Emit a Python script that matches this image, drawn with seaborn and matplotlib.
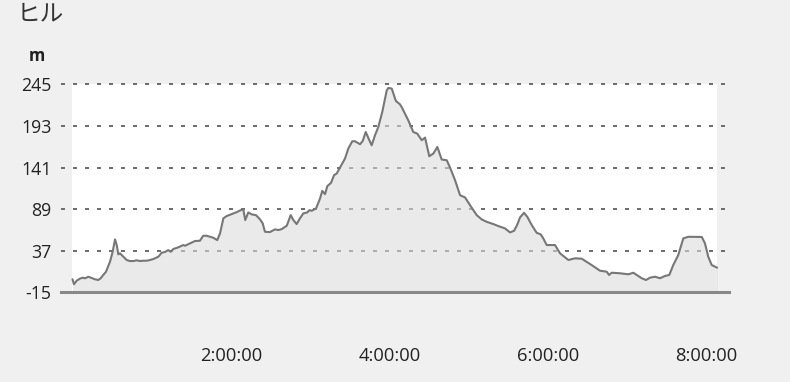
import matplotlib
matplotlib.use("Agg")
import matplotlib.pyplot as plt
import seaborn as sns
import pandas as pd

# elapsed time (minutes) and elevation (m)
minutes = [0, 1.1, 3.2, 5.7, 7.7, 9.5, 12.0, 14.5, 17.0, 19.5, 21.3, 23.3, 25.4, 28.4, 30.4,
           32.2, 33.5, 34.7, 36.0, 38.5, 41.0, 43.5, 46.0, 48.6, 51.1, 53.6, 56.2, 58.7, 61.2,
           65.0, 67.5, 70.0, 72.5, 74.3, 76.3, 80.1, 83.9, 85.2, 89.0, 92.7, 96.5, 99.0, 101.6,
           104.1, 106.6, 109.6, 111.7, 114.2, 116.7, 120.5, 124.3, 127.3, 129.3, 130.8, 133.1,
           135.7, 138.9, 142.0, 144.0, 145.7, 149.5, 153.3, 155.8, 158.4, 162.2, 165.2, 167.2,
           169.7, 172.2, 174.7, 177.8, 179.3, 181.1, 184.4, 187.4, 189.1, 191.2, 192.9, 195.7,
           198.0, 200.0, 202.5, 206.3, 208.8, 211.8, 213.9, 217.7, 219.7, 222.0, 224.5, 226.5,
           229.0, 231.5, 234.5, 237.9, 239.1, 241.7, 244.2, 244.9, 247.9, 249.2, 254.2, 258.0,
           261.0, 264.4, 266.9, 270.1, 273.2, 276.2, 279.5, 283.3, 285.8, 289.6, 293.4, 297.2,
           300.9, 306.0, 309.8, 313.6, 318.6, 322.4, 327.4, 331.2, 334.3, 336.8, 338.8, 341.8,
           344.3, 347.7, 351.4, 354.5, 356.4, 359.0, 365.3, 369.1, 375.4, 380.4, 385.5, 391.8,
           399.4, 404.4, 406.2, 408.2, 414.5, 420.8, 424.6, 430.9, 434.2, 437.2, 441.0, 444.8,
           448.5, 451.8, 454.8, 458.6, 462.4, 466.2, 476.4, 478.8, 481.3, 483.9, 488.0]
elevation = [1.4, -4.8, -0.3, 2.2, 3.4, 2.6, 4.6, 3.0, 1.4, 0.5, 2.6, 6.8, 10.9, 23.4, 35.8,
             51.3, 44.2, 32.6, 33.8, 29.6, 25.5, 24.2, 24.2, 25.1, 24.2, 24.6, 24.6, 25.5, 26.7,
             29.6, 34.6, 35.5, 37.9, 35.8, 39.2, 41.3, 44.2, 43.3, 46.3, 49.2, 49.6, 55.8, 55.8,
             54.5, 53.3, 50.4, 58.8, 77.5, 80.4, 82.9, 85.3, 87.8, 88.7, 75.4, 85.0,
             82.5, 81.6, 76.2, 71.3, 60.8, 60.4, 63.8, 62.9, 64.1, 68.3, 81.6, 75.4,
             70.4, 77.5, 83.7, 85.0, 87.8, 87.0, 90.0, 102.4, 111.9, 107.8, 117.8, 121.9,
             131.5, 133.6, 141.1, 152.3, 164.8, 173.9, 173.9, 170.2, 174.3, 185.5, 176.0, 168.9,
             181.4, 191.7, 210.5, 237.5, 240.6, 239.8, 227.2, 224.2, 220.1, 216.7, 200.1, 185.5,
             183.5, 175.2, 178.5, 155.2, 158.6, 166.8, 151.1, 150.2, 141.1, 125.3, 106.5, 103.7,
             94.1, 81.6, 76.2, 73.2, 70.4, 67.9, 65.0, 60.0, 62.0, 70.0, 78.7, 84.5,
             79.5, 69.1, 59.5, 57.5, 52.5, 44.2, 44.2, 33.8, 25.5, 27.6, 27.1, 20.5,
             12.1, 10.9, 6.8, 9.6, 8.9, 7.6, 9.6, 2.7, 0.5, 3.4, 4.6, 2.7,
             5.5, 6.8, 19.2, 31.7, 52.5, 54.5, 54.3, 46.3, 29.6, 19.2, 15.9]

y_ticks = [-15, 37, 89, 141, 193, 245]
x_ticks = [120, 240, 360, 480]
x_labels = ["2:00:00", "4:00:00", "6:00:00", "8:00:00"]
title = "ヒル"
unit = "m"

df = pd.DataFrame({"minutes": minutes, "elevation": elevation})

sns.set_theme(style="white")
plt.rcParams["font.family"] = ["Open Sans", "Noto Sans CJK JP", "DejaVu Sans"]

BG = "#f0f0f0"
fig = plt.figure(figsize=(7.9, 3.82), dpi=100, facecolor=BG)
ax = fig.add_axes([61 / 790, 89.6 / 382, 668 / 790, 210.0 / 382])
ax.set_facecolor(BG)

# white plotting region
ax.fill_between([minutes[0], minutes[-1]], y_ticks[0], y_ticks[-1],
                color="white", lw=0, zorder=0.2)

ax.fill_between(df["minutes"], df["elevation"], y_ticks[0],
                color="#dcdcdc", alpha=0.58, lw=0, zorder=1)
sns.lineplot(data=df, x="minutes", y="elevation", ax=ax, color="#777777",
             lw=1.5, zorder=2)

ax.set_xlim(-8.7, 497.0)
ax.set_ylim(y_ticks[0], 247.5)

ax.set_axisbelow(True)
ax.yaxis.grid(True, color="#6e6e6e", lw=1.44, ls=(0, (2, 4)))
ax.xaxis.grid(False)

ax.set_yticks(y_ticks)
ax.set_yticklabels([str(v) for v in y_ticks])
ax.set_xticks(x_ticks)
ax.set_xticklabels(x_labels)
ax.set_xlabel("")
ax.set_ylabel("")

ax.tick_params(axis="y", length=0, pad=7, labelsize=12.8, labelcolor="#222222")
ax.tick_params(axis="x", length=9, width=1.5, color="#777777", pad=30,
               labelsize=13.2, labelcolor="#222222", direction="out")

for s in ["top", "left", "right"]:
    ax.spines[s].set_visible(False)
ax.spines["bottom"].set_color("#888888")
ax.spines["bottom"].set_linewidth(2.2)

fig.text(37 / 790, 1 - 56 / 382, unit, ha="center", va="center",
         fontsize=12, fontweight="bold", color="#222222")
fig.text(17 / 790, 1 - 14 / 382, title, ha="left", va="center",
         fontsize=17, color="#333333", family=["Noto Sans CJK JP", "DejaVu Sans"])

fig.savefig("out.png", dpi=100, facecolor=BG)
